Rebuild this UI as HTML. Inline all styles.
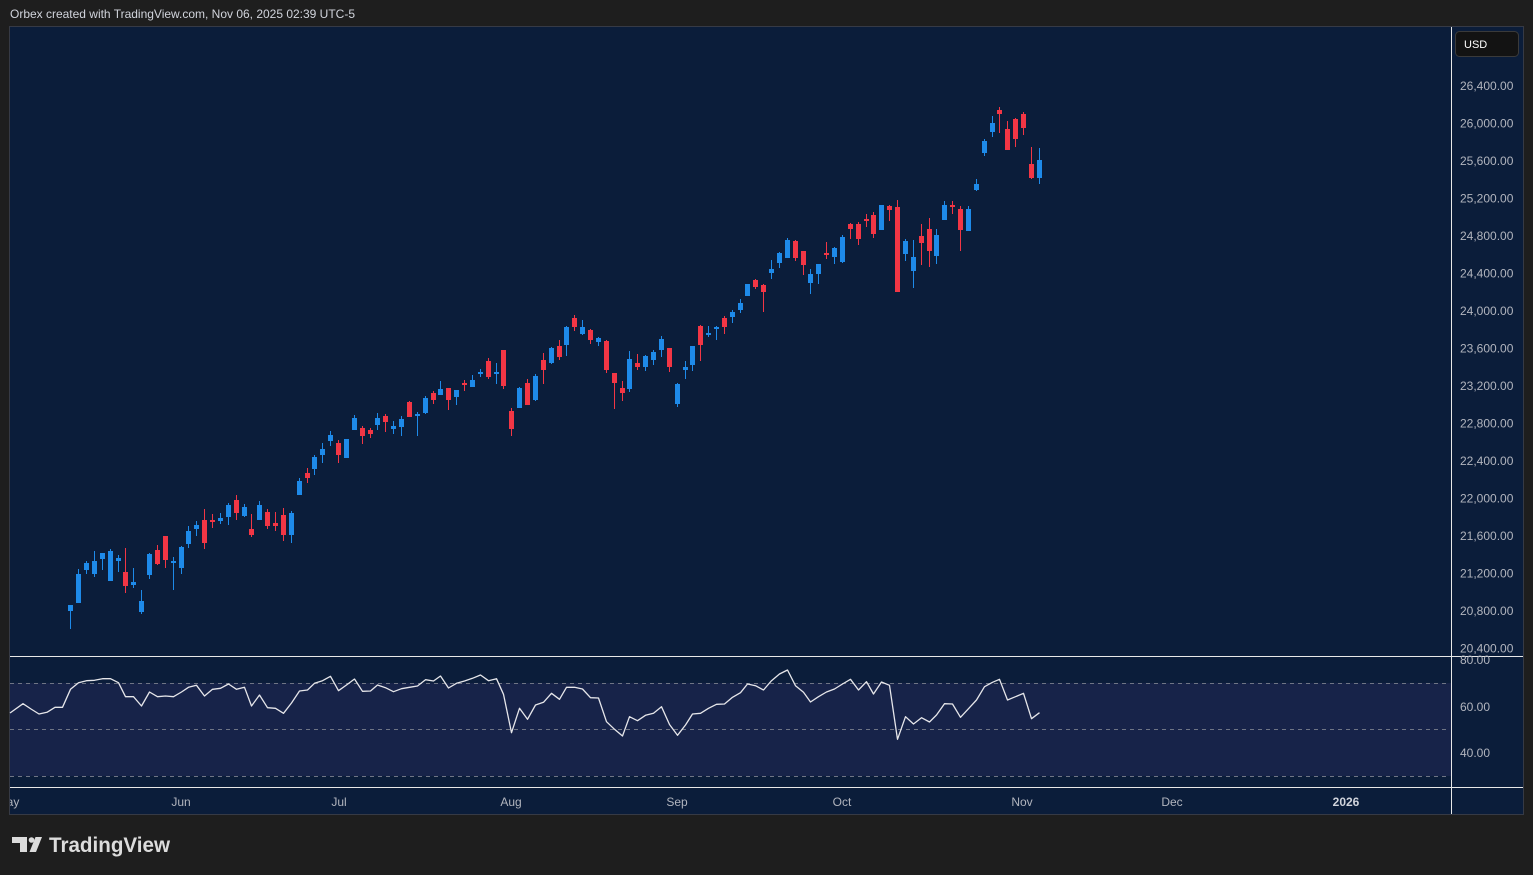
<!DOCTYPE html>
<html><head><meta charset="utf-8"><style>
html,body{margin:0;padding:0;background:#1e1e1e;width:1533px;height:875px;overflow:hidden}
svg{display:block}
text{font-family:"Liberation Sans",sans-serif}
</style></head><body>
<svg width="1533" height="875" viewBox="0 0 1533 875" xmlns="http://www.w3.org/2000/svg">
<rect x="0" y="0" width="1533" height="875" fill="#1e1e1e"/>
<text x="10" y="18" font-size="12" fill="#d1d4dc" textLength="345">Orbex created with TradingView.com, Nov 06, 2025 02:39 UTC-5</text>
<rect x="9.5" y="26.5" width="1514" height="788" fill="#0b1d3a" stroke="#363a45"/>
<!-- RSI band -->
<rect x="10" y="683" width="1441" height="93" fill="#172349"/>
<g stroke="#6f7585" stroke-width="1" stroke-dasharray="4 4">
<line x1="10" y1="683.5" x2="1446" y2="683.5"/>
<line x1="10" y1="729.5" x2="1446" y2="729.5"/>
<line x1="10" y1="776.5" x2="1446" y2="776.5"/>
</g>
<!-- separators -->
<g fill="#e8e8e8">
<rect x="1451" y="27" width="1" height="787"/>
<rect x="10" y="656" width="1513" height="1"/>
<rect x="10" y="787" width="1513" height="1"/>
</g>
<!-- candles -->
<path fill="none" stroke="#1e8ae9" stroke-width="1" d="M70.5 605V629M78.5 569V603M86.5 561V574M94.5 551V577M102.5 553V570M110.5 549V581M118.5 555V572M133.5 568V588M141.5 590V614M149.5 553V579M173.5 557V590M181.5 546V574M188.5 526V548M196.5 521V536M220.5 513V524M228.5 503V525M244.5 504V517M259.5 501V520M291.5 511V543M299.5 478V495M314.5 455V475M322.5 443V463M330.5 431V446M346.5 439V458M354.5 415V430M377.5 413V430M393.5 421V434M401.5 416V436M417.5 412V436M425.5 396V414M440.5 381V395M456.5 390V405M472.5 375V387M480.5 369V377M496.5 363V384M519.5 387V408M535.5 374V401M551.5 347V364M566.5 326V356M582.5 320V335M598.5 337V346M629.5 351V392M645.5 355V371M653.5 350V365M661.5 336V357M677.5 383V407M685.5 361V379M692.5 346V371M708.5 326V337M716.5 326V340M732.5 310V323M740.5 299V313M747.5 284V296M771.5 260V279M779.5 252V268M787.5 238V258M810.5 269V294M818.5 264V284M834.5 247V264M842.5 235V263M881.5 205V230M905.5 239V261M913.5 240V288M936.5 229V264M944.5 201V220M968.5 206V231M976.5 179V191M984.5 139V156M992.5 116V137M1039.5 148V184"/>
<path fill="#1e8ae9" d="M68 605h5v6h-5zM76 574h5v29h-5zM84 563h5v7h-5zM92 561h5v13h-5zM100 553h5v6h-5zM108 551h5v30h-5zM116 558h5v3h-5zM131 582h5v3h-5zM139 601h5v11h-5zM147 554h5v21h-5zM171 561h5v2h-5zM179 547h5v21h-5zM186 531h5v13h-5zM194 525h5v4h-5zM218 518h5v3h-5zM226 505h5v12h-5zM242 507h5v9h-5zM257 505h5v15h-5zM289 513h5v22h-5zM297 481h5v14h-5zM312 457h5v12h-5zM320 449h5v6h-5zM328 435h5v6h-5zM344 439h5v19h-5zM352 418h5v12h-5zM375 418h5v7h-5zM391 426h5v3h-5zM399 419h5v8h-5zM415 414h5v2h-5zM423 398h5v15h-5zM438 389h5v6h-5zM454 390h5v7h-5zM470 380h5v7h-5zM478 372h5v2h-5zM494 372h5v2h-5zM517 388h5v20h-5zM533 376h5v24h-5zM549 348h5v15h-5zM564 327h5v18h-5zM580 327h5v7h-5zM596 338h5v4h-5zM627 359h5v30h-5zM643 356h5v11h-5zM651 352h5v8h-5zM659 339h5v11h-5zM675 384h5v20h-5zM683 367h5v3h-5zM690 346h5v19h-5zM706 333h5v2h-5zM714 327h5v2h-5zM730 312h5v5h-5zM738 303h5v7h-5zM745 284h5v12h-5zM769 269h5v4h-5zM777 253h5v10h-5zM785 240h5v18h-5zM808 274h5v9h-5zM816 264h5v10h-5zM832 248h5v9h-5zM840 237h5v25h-5zM879 205h5v25h-5zM903 241h5v13h-5zM911 257h5v14h-5zM934 235h5v21h-5zM942 205h5v15h-5zM966 209h5v22h-5zM974 184h5v6h-5zM982 141h5v12h-5zM990 123h5v9h-5zM1037 160h5v18h-5z"/>
<path fill="none" stroke="#f23645" stroke-width="1" d="M125.5 548V593M157.5 545V565M165.5 536V568M204.5 509V549M212.5 514V528M236.5 495V520M251.5 514V537M267.5 509V529M275.5 512V531M283.5 508V541M307.5 468V483M338.5 440V463M362.5 426V444M370.5 428V438M385.5 414V432M409.5 401V417M433.5 391V404M448.5 388V410M464.5 380V391M488.5 358V379M503.5 350V389M511.5 408V436M527.5 379V405M543.5 353V384M559.5 340V360M574.5 315V331M590.5 329V344M606.5 340V373M614.5 373V409M622.5 381V401M637.5 354V370M669.5 348V372M700.5 325V361M724.5 316V334M755.5 279V289M763.5 284V312M795.5 240V261M803.5 251V275M826.5 242V259M850.5 223V239M858.5 222V245M866.5 214V227M873.5 212V238M889.5 205V221M897.5 200V292M921.5 224V265M929.5 218V267M952.5 201V214M960.5 206V251M999.5 107V133M1007.5 121V150M1015.5 118V147M1023.5 112V135M1031.5 147V179"/>
<path fill="#f23645" d="M123 572h5v14h-5zM155 550h5v14h-5zM163 536h5v24h-5zM202 520h5v23h-5zM210 520h5v2h-5zM234 500h5v13h-5zM249 529h5v6h-5zM265 512h5v14h-5zM273 523h5v3h-5zM281 515h5v20h-5zM305 473h5v5h-5zM336 443h5v12h-5zM360 428h5v8h-5zM368 430h5v4h-5zM383 416h5v6h-5zM407 402h5v15h-5zM431 393h5v7h-5zM446 388h5v12h-5zM462 383h5v2h-5zM486 361h5v16h-5zM501 350h5v36h-5zM509 411h5v18h-5zM525 383h5v22h-5zM541 360h5v10h-5zM557 346h5v11h-5zM572 318h5v9h-5zM588 330h5v10h-5zM604 341h5v29h-5zM612 373h5v10h-5zM620 388h5v5h-5zM635 363h5v4h-5zM667 348h5v19h-5zM698 326h5v19h-5zM722 318h5v9h-5zM753 280h5v7h-5zM761 285h5v7h-5zM793 241h5v17h-5zM801 251h5v14h-5zM824 253h5v2h-5zM848 224h5v5h-5zM856 224h5v15h-5zM864 219h5v2h-5zM871 215h5v19h-5zM887 206h5v4h-5zM895 207h5v85h-5zM919 236h5v7h-5zM927 229h5v22h-5zM950 205h5v2h-5zM958 209h5v21h-5zM997 110h5v4h-5zM1005 129h5v21h-5zM1013 119h5v20h-5zM1021 114h5v14h-5zM1029 164h5v14h-5z"/>
<!-- RSI line -->
<polyline fill="none" stroke="#e6e6ea" stroke-width="1.3" stroke-linejoin="round" points="10,713 23,703.7 31,709 39,714 47,712.3 55,707.3 62.5,707.3 70.5,689.3 78.5,682.7 86.5,680.7 94.5,680.3 102.5,678.7 110.5,678.7 118.5,682.7 125.5,696.7 133.5,696.7 141.5,706 149.5,692 157.5,696.7 165.5,696 173.5,696.7 181.5,692 188.5,687.3 196.5,685.3 204.5,696 212.5,689.3 220.5,688.3 228.5,684 236.5,689.3 244.5,687.3 251.5,706 259.5,695 267.5,707.7 275.5,708.3 283.5,713.3 291.5,703 299.5,691 307.5,690 314.5,683.3 322.5,680.7 330.5,676.3 338.5,690.7 346.5,685 354.5,679 362.5,691.3 370.5,691 377.5,685 385.5,687.7 393.5,691.7 401.5,688.7 409.5,687.3 417.5,686 425.5,679.7 433.5,681 440.5,676 448.5,688 456.5,683.3 464.5,681 472.5,678.3 480.5,675 488.5,680.7 496.5,678.7 503.5,694.3 511.5,732.7 519.5,708.3 527.5,719.3 535.5,705 543.5,702.3 551.5,693.3 559.5,699.3 566.5,687.3 574.5,687.3 582.5,689 590.5,697.7 598.5,698 606.5,721.7 614.5,729.3 622.5,736 629.5,716.7 637.5,720.7 645.5,715.3 653.5,713.3 661.5,706.7 669.5,724.5 677.5,735.3 685.5,725 692.5,714 700.5,713.3 708.5,708.3 716.5,704.3 724.5,704 732.5,697.3 740.5,692.7 747.5,684 755.5,685.7 763.5,690 771.5,680.7 779.5,674 787.5,670 795.5,685.7 803.5,692.3 810.5,702 818.5,696.7 826.5,692 834.5,689 842.5,684 850.5,679.3 858.5,690 866.5,681.7 873.5,694 881.5,682 889.5,685.3 897.5,739.3 905.5,716.7 913.5,724 921.5,717.7 929.5,722 936.5,715 944.5,703.7 952.5,704 960.5,717.3 968.5,708.7 976.5,700 984.5,686.7 992.5,682.3 999.5,679.3 1007.5,700 1015.5,696.7 1023.5,693.3 1031.5,718.7 1039.5,712.7"/>
<!-- price axis -->
<rect x="1455.5" y="31.5" width="63" height="25" rx="4" fill="#131313" stroke="#3a3a3a"/>
<text x="1464" y="48" font-size="11" fill="#ffffff">USD</text>
<g font-size="12" fill="#b2b5be">
<text x="1460" y="90">26,400.00</text>
<text x="1460" y="127.5">26,000.00</text>
<text x="1460" y="165">25,600.00</text>
<text x="1460" y="202.5">25,200.00</text>
<text x="1460" y="240">24,800.00</text>
<text x="1460" y="277.5">24,400.00</text>
<text x="1460" y="315">24,000.00</text>
<text x="1460" y="352.5">23,600.00</text>
<text x="1460" y="390">23,200.00</text>
<text x="1460" y="427.5">22,800.00</text>
<text x="1460" y="465">22,400.00</text>
<text x="1460" y="502.5">22,000.00</text>
<text x="1460" y="540">21,600.00</text>
<text x="1460" y="577.5">21,200.00</text>
<text x="1460" y="615">20,800.00</text>
<text x="1460" y="652.5">20,400.00</text>
<text x="1460" y="664">80.00</text>
<text x="1460" y="711">60.00</text>
<text x="1460" y="757">40.00</text>
</g>
<!-- time axis -->
<clipPath id="tc"><rect x="10" y="788" width="1441" height="26"/></clipPath>
<g font-size="12" fill="#b2b5be" text-anchor="middle" clip-path="url(#tc)">
<text x="8" y="806">May</text>
<text x="181" y="806">Jun</text>
<text x="339" y="806">Jul</text>
<text x="511" y="806">Aug</text>
<text x="677" y="806">Sep</text>
<text x="842" y="806">Oct</text>
<text x="1022" y="806">Nov</text>
<text x="1172" y="806">Dec</text>
<text x="1346" y="806" font-weight="bold" fill="#d1d4dc">2026</text>
</g>
<!-- logo -->
<g fill="#dcdcdc">
<path d="M12 837H27V852H20V843H12Z"/>
<circle cx="31.5" cy="840" r="2.8"/>
<path d="M35.5 837H42L36 852H29.5Z"/>
<text x="49" y="852" font-size="21" font-weight="bold" textLength="121" lengthAdjust="spacingAndGlyphs">TradingView</text>
</g>
</svg>
</body></html>
